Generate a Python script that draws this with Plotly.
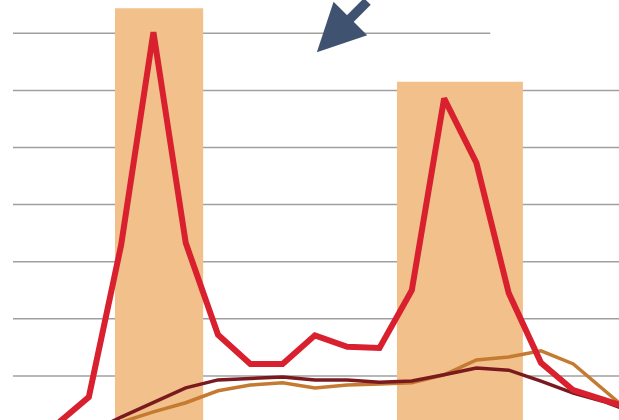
import plotly.graph_objects as go

# periods along the x axis (index positions)
periods = list(range(19))

# series values
red_vals = [1.5, 6.3, 32.9, 70.2, 33.3, 17.2, 12.1, 12.1, 17.1, 15.1, 14.9, 25.0, 58.6, 47.3, 24.5, 12.3, 7.5, 5.8, 3.9]
maroon_vals = [0, 0, 2.8, 5.3, 7.9, 9.3, 9.6, 9.8, 9.3, 9.3, 8.9, 9.1, 10.2, 11.4, 11.0, 9.1, 7.0, 5.4, 3.3]
orange_vals = [0, 0, 1.9, 3.7, 5.3, 7.4, 8.4, 8.8, 7.9, 8.4, 8.6, 8.8, 10.2, 12.8, 13.3, 14.4, 12.1, 7.4, 2.5]

# shaded periods
shade_start = [1.81, 10.54]
shade_end = [4.54, 14.44]
shade_top = [74.4, 61.5]

grid_vals = [10, 20, 30, 40, 50, 60, 70]

fig = go.Figure()

for x0, x1, top in zip(shade_start, shade_end, shade_top):
    fig.add_shape(type="rect", xref="x", yref="y", x0=x0, x1=x1, y0=-10, y1=top,
                  fillcolor="#f2c08b", line_width=0, layer="below")

for g in grid_vals:
    fig.add_shape(type="line", xref="paper", yref="y", x0=0.021, x1=0.792 if g == 70 else 1,
                  y0=g, y1=g, line=dict(color="#a0a0a0", width=1.5), layer="below")

fig.add_trace(go.Scatter(x=periods, y=orange_vals, mode="lines",
                         line=dict(color="#c47a30", width=3.5), hoverinfo="skip"))
fig.add_trace(go.Scatter(x=periods, y=maroon_vals, mode="lines",
                         line=dict(color="#7a1a1e", width=3.5), hoverinfo="skip"))
fig.add_trace(go.Scatter(x=periods, y=red_vals, mode="lines",
                         line=dict(color="#d8202f", width=6), hoverinfo="skip"))

fig.add_annotation(x=8.06, y=66.7, xref="x", yref="y", text="", showarrow=True,
                   ax=52, ay=-55, arrowhead=2, arrowsize=1.0, arrowwidth=9.5,
                   arrowcolor="#3f5270")

fig.update_layout(
    width=619, height=420,
    margin=dict(l=0, r=0, t=0, b=0),
    paper_bgcolor="white", plot_bgcolor="white",
    showlegend=False,
    xaxis=dict(range=[-1.75, 17.415], visible=False, showgrid=False, zeroline=False),
    yaxis=dict(range=[2.28, 75.83], visible=False, showgrid=False, zeroline=False),
)

fig.write_html("out.html", config={"displayModeBar": False},
               post_script="document.body.style.margin='0';document.body.style.overflow='hidden';")
